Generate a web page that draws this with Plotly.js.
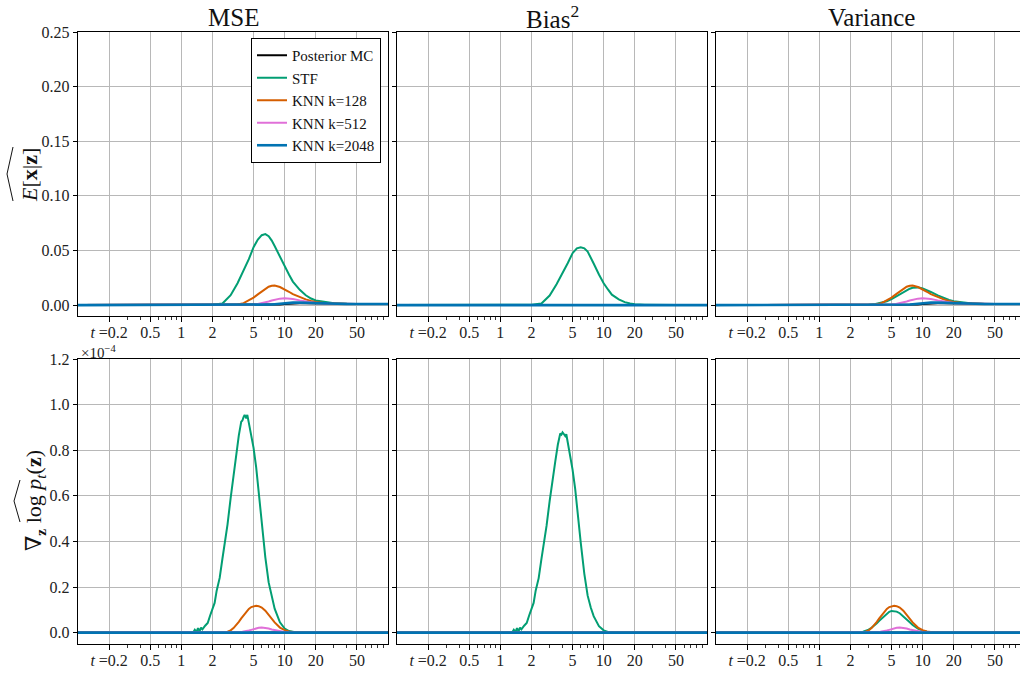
<!DOCTYPE html>
<html>
<head>
<meta charset="utf-8">
<script src="https://cdn.plot.ly/plotly-3.0.1.min.js"></script>
<style>
html,body{margin:0;padding:0;overflow:hidden;background:#fff;}
#chart{width:1030px;height:673px;}
</style>
</head>
<body>
<div id="chart"></div>
<script>
// ---------------- data ----------------
const seriesNames = ['Posterior MC', 'STF', 'KNN k=128', 'KNN k=512', 'KNN k=2048'];
const columnTitles = ['MSE', 'Bias<sup>2</sup>', 'Variance'];
const xTickVals = [0.2, 0.5, 1, 2, 5, 10, 20, 50];
const xTickText = ['<i>t</i> =0.2', '0.5', '1', '2', '5', '10', '20', '50'];
const xMinorVals = [0.3, 0.4, 0.6, 0.7, 0.8, 0.9, 3, 4, 6, 7, 8, 9, 30, 40, 60, 70, 80, 90];
const topYTicks = [0, 0.05, 0.10, 0.15, 0.20, 0.25];
const botYTicks = [0, 0.2, 0.4, 0.6, 0.8, 1.0, 1.2];

const zeroT = [0.1, 100];
const zeroVals = [0, 0];

// top row: E[x|z]
const topT = [0.1, 1, 1.5, 2, 2.5, 3, 3.5, 4, 4.5, 5, 5.5, 6, 6.5, 7, 7.5, 8, 9, 10, 11, 12, 14, 16, 18, 20, 25, 30, 40, 50, 70, 100];
const topMseMC = [0, 0, 0, 0, 0, 0, 0, 0, 0, 0, 0, 0, 0, 0, 0.0001, 0.0003, 0.0006, 0.0009, 0.0012, 0.0014, 0.0016, 0.0016, 0.0015, 0.0014, 0.0012, 0.0011, 0.001, 0.001, 0.001, 0.001];
const topMseSTF = [0, 0, 0, 0.0003, 0.0015, 0.009, 0.020, 0.031, 0.042, 0.053, 0.060, 0.064, 0.065, 0.063, 0.059, 0.054, 0.044, 0.035, 0.028, 0.0215, 0.014, 0.009, 0.006, 0.0042, 0.0024, 0.0016, 0.0012, 0.001, 0.001, 0.001];
const topMseK128 = [0, 0, 0, 0, 0, 0, 0.0006, 0.0018, 0.0042, 0.0068, 0.0098, 0.0125, 0.015, 0.0168, 0.0177, 0.0178, 0.0165, 0.0145, 0.0122, 0.0100, 0.0072, 0.0052, 0.0038, 0.0028, 0.0017, 0.0012, 0.001, 0.001, 0.001, 0.001];
const topMseK512 = [0, 0, 0, 0, 0, 0, 0, 0, 0.0003, 0.0006, 0.001, 0.0016, 0.0024, 0.0033, 0.0042, 0.005, 0.0059, 0.0062, 0.006, 0.0055, 0.0043, 0.0033, 0.0026, 0.002, 0.0014, 0.0012, 0.001, 0.001, 0.001, 0.001];
const topMseK2048 = [0, 0, 0, 0, 0, 0, 0, 0, 0, 0, 0, 0, 0.0001, 0.0003, 0.0005, 0.0007, 0.0012, 0.0017, 0.002, 0.0022, 0.0022, 0.002, 0.0018, 0.0016, 0.0013, 0.0011, 0.001, 0.001, 0.001, 0.001];
const topBiasSTF = [0, 0, 0, 0.0003, 0.0015, 0.0087, 0.019, 0.029, 0.0385, 0.0475, 0.052, 0.053, 0.052, 0.049, 0.044, 0.038, 0.028, 0.020, 0.0143, 0.0095, 0.0052, 0.0027, 0.0014, 0.0007, 0.0004, 0.0002, 0.0001, 0, 0, 0];
const topVarSTF = [0, 0, 0, 0, 0, 0.0003, 0.001, 0.002, 0.0035, 0.0055, 0.0078, 0.010, 0.012, 0.0138, 0.015, 0.0158, 0.0162, 0.0152, 0.0137, 0.012, 0.0088, 0.0063, 0.0046, 0.0035, 0.002, 0.0014, 0.0011, 0.001, 0.001, 0.001];

// bottom row: grad log p_t(z), units of 1e-4
const botT = [0.1, 1, 1.3, 1.35, 1.4, 1.45, 1.5, 1.55, 1.6, 1.7, 1.8, 1.9, 2.0, 2.1, 2.2, 2.35, 2.5, 2.65, 2.8, 3.0, 3.2, 3.4, 3.6, 3.8, 3.9, 4.0, 4.1, 4.25, 4.35, 4.5, 4.75, 5.0, 5.3, 5.6, 6.0, 6.5, 7.0, 7.5, 8.0, 9.0, 10, 11, 13, 16, 20, 50, 100];
const botMseSTF = [0, 0, 0, 0.012, 0.003, 0.02, 0.005, 0.022, 0.014, 0.03, 0.042, 0.075, 0.105, 0.13, 0.185, 0.24, 0.325, 0.40, 0.475, 0.59, 0.695, 0.78, 0.865, 0.925, 0.93, 0.945, 0.955, 0.94, 0.955, 0.92, 0.87, 0.81, 0.725, 0.61, 0.48, 0.33, 0.22, 0.155, 0.105, 0.045, 0.018, 0.007, 0.001, 0, 0, 0, 0];
const botBiasSTF = [0, 0, 0, 0.012, 0.003, 0.02, 0.005, 0.022, 0.014, 0.03, 0.042, 0.075, 0.105, 0.13, 0.185, 0.239, 0.323, 0.396, 0.468, 0.577, 0.674, 0.75, 0.824, 0.873, 0.868, 0.878, 0.872, 0.862, 0.87, 0.836, 0.779, 0.715, 0.63, 0.518, 0.395, 0.258, 0.162, 0.11, 0.072, 0.028, 0.01, 0.003, 0, 0, 0, 0, 0];
const botVarSTF = [0, 0, 0, 0, 0, 0, 0, 0, 0, 0, 0, 0, 0, 0, 0, 0.001, 0.002, 0.004, 0.007, 0.013, 0.021, 0.03, 0.041, 0.052, 0.057, 0.062, 0.067, 0.074, 0.078, 0.084, 0.091, 0.095, 0.095, 0.092, 0.085, 0.072, 0.058, 0.045, 0.033, 0.017, 0.008, 0.004, 0.001, 0, 0, 0, 0];
const botMseK128 = [0, 0, 0, 0, 0, 0, 0, 0, 0, 0, 0, 0, 0, 0, 0, 0, 0, 0, 0.004, 0.01, 0.02, 0.033, 0.047, 0.062, 0.069, 0.076, 0.083, 0.092, 0.097, 0.104, 0.112, 0.116, 0.118, 0.116, 0.11, 0.096, 0.078, 0.06, 0.045, 0.022, 0.011, 0.005, 0.001, 0, 0, 0, 0];
const botMseK512 = [0, 0, 0, 0, 0, 0, 0, 0, 0, 0, 0, 0, 0, 0, 0, 0, 0, 0, 0, 0, 0, 0.001, 0.002, 0.003, 0.0035, 0.004, 0.005, 0.006, 0.007, 0.009, 0.012, 0.015, 0.018, 0.021, 0.022, 0.021, 0.018, 0.014, 0.011, 0.006, 0.003, 0.0015, 0.0003, 0, 0, 0, 0];
const botK2048T = [0.1, 3.5, 4.5, 5.5, 6.5, 8, 10, 100];
const botMseK2048 = [0, 0, 0.001, 0.003, 0.003, 0.0015, 0.0003, 0];

// ---------------- drawing ----------------
const W = 1030, H = 673;
const colors = ['#000000', '#029e73', '#d55e00', '#e070d8', '#0173b2'];
const widths = [2, 2, 2, 2, 2.6];
const colPx = [[78, 388], [397, 707], [716, 1026]];
const rowPx = [[32, 316], [359, 644]];
const px2x = p => p / W;
const px2y = p => 1 - p / H;

const panels = [
  [[topT, topMseMC], [topT, topMseSTF], [topT, topMseK128], [topT, topMseK512], [topT, topMseK2048]],
  [[zeroT, zeroVals], [topT, topBiasSTF], [zeroT, zeroVals], [zeroT, zeroVals], [zeroT, zeroVals]],
  [[topT, topMseMC], [topT, topVarSTF], [topT, topMseK128], [topT, topMseK512], [topT, topMseK2048]],
  [[zeroT, zeroVals], [botT, botMseSTF], [botT, botMseK128], [botT, botMseK512], [botK2048T, botMseK2048]],
  [[zeroT, zeroVals], [botT, botBiasSTF], [zeroT, zeroVals], [zeroT, zeroVals], [zeroT, zeroVals]],
  [[zeroT, zeroVals], [botT, botVarSTF], [botT, botMseK128], [botT, botMseK512], [botK2048T, botMseK2048]]
];

const font = '"Liberation Serif", "Times New Roman", "DejaVu Serif", serif';
const traces = [];
const layout = {
  width: W, height: H,
  margin: {l: 0, r: 0, t: 0, b: 0},
  paper_bgcolor: '#fff', plot_bgcolor: '#fff',
  font: {family: font, color: '#111', size: 15},
  showlegend: true,
  legend: {
    x: px2x(381), xanchor: 'right', y: px2y(38), yanchor: 'top',
    bgcolor: '#fff', bordercolor: '#000', borderwidth: 1,
    font: {family: font, size: 15, color: '#111'},
    tracegroupgap: 0, itemwidth: 30
  },
  annotations: [], shapes: []
};

panels.forEach((series, idx) => {
  const row = Math.floor(idx / 3), col = idx % 3;
  const n = idx + 1;
  const xa = 'x' + (n === 1 ? '' : n), ya = 'y' + (n === 1 ? '' : n);
  series.forEach((s, k) => {
    traces.push({
      x: s[0], y: s[1], type: 'scatter', mode: 'lines',
      name: seriesNames[k], legendgroup: seriesNames[k],
      showlegend: idx === 0,
      line: {color: colors[k], width: widths[k]},
      xaxis: xa, yaxis: ya, hoverinfo: 'skip'
    });
  });
  const xKey = 'xaxis' + (n === 1 ? '' : n), yKey = 'yaxis' + (n === 1 ? '' : n);
  layout[xKey] = {
    type: 'log', range: [-1, 2],
    domain: [px2x(colPx[col][0]), px2x(colPx[col][1])],
    anchor: ya,
    tickmode: 'array', tickvals: xTickVals, ticktext: xTickText,
    ticks: 'outside', ticklen: 5, tickwidth: 1, tickcolor: '#000',
    ticklabelstandoff: -3,
    minor: {tickvals: xMinorVals, ticks: 'outside', ticklen: 3, tickwidth: 0.8, tickcolor: '#000', showgrid: false},
    showgrid: true, gridcolor: '#b8b8b8', gridwidth: 1,
    showline: true, linecolor: '#000', linewidth: 1.2, mirror: true,
    zeroline: false, tickfont: {family: font, size: 16, color: '#222'},
    automargin: false
  };
  layout[yKey] = {
    range: row === 0 ? [-0.01, 0.25] : [-0.05, 1.2],
    domain: [px2y(rowPx[row][1]), px2y(rowPx[row][0])],
    anchor: xa,
    tickmode: 'array', tickvals: row === 0 ? topYTicks : botYTicks,
    tickformat: row === 0 ? '.2f' : '.1f',
    showticklabels: col === 0,
    ticks: 'outside', ticklen: 4, tickwidth: 1, tickcolor: '#000',
    showgrid: true, gridcolor: '#b8b8b8', gridwidth: 1,
    showline: true, linecolor: '#000', linewidth: 1.2, mirror: true,
    zeroline: false, tickfont: {family: font, size: 16, color: '#222'},
    automargin: false
  };
});

// column titles
columnTitles.forEach((t, c) => {
  layout.annotations.push({
    text: t, xref: 'paper', yref: 'paper',
    x: px2x((colPx[c][0] + colPx[c][1]) / 2), y: px2y(17),
    xanchor: 'center', yanchor: 'middle', showarrow: false,
    font: {family: font, size: 25, color: '#111'}
  });
});

// y-axis labels
layout.annotations.push({
  text: '<i>E</i>[<b>x</b>|<b>z</b>]', xref: 'paper', yref: 'paper',
  x: px2x(30), y: px2y(175), xanchor: 'center', yanchor: 'middle',
  textangle: -90, showarrow: false, font: {family: font, size: 22, color: '#111'}
});
layout.annotations.push({
  text: '∇<sub><b>z</b></sub> log <i>p<sub>t</sub></i>(<b>z</b>)', xref: 'paper', yref: 'paper',
  x: px2x(35), y: px2y(501), xanchor: 'center', yanchor: 'middle',
  textangle: -90, showarrow: false, font: {family: font, size: 22, color: '#111'}
});
// scale factor
layout.annotations.push({
  text: '×10<sup>−4</sup>', xref: 'paper', yref: 'paper',
  x: px2x(79), y: px2y(363), xanchor: 'left', yanchor: 'bottom',
  showarrow: false, font: {family: font, size: 15, color: '#222'}
});

// wide hats over the y labels
function hat(x0, y0, xa, ya, y1) {
  return {
    type: 'path', xref: 'paper', yref: 'paper',
    path: 'M ' + px2x(x0) + ',' + px2y(y0) + ' L ' + px2x(xa) + ',' + px2y(ya) + ' L ' + px2x(x0) + ',' + px2y(y1),
    line: {color: '#111', width: 1}
  };
}
layout.shapes.push(hat(13, 147, 7, 174, 201));
layout.shapes.push(hat(20, 480, 14, 501, 522));

Plotly.newPlot('chart', traces, layout, {staticPlot: true, displayModeBar: false});
</script>
</body>
</html>
